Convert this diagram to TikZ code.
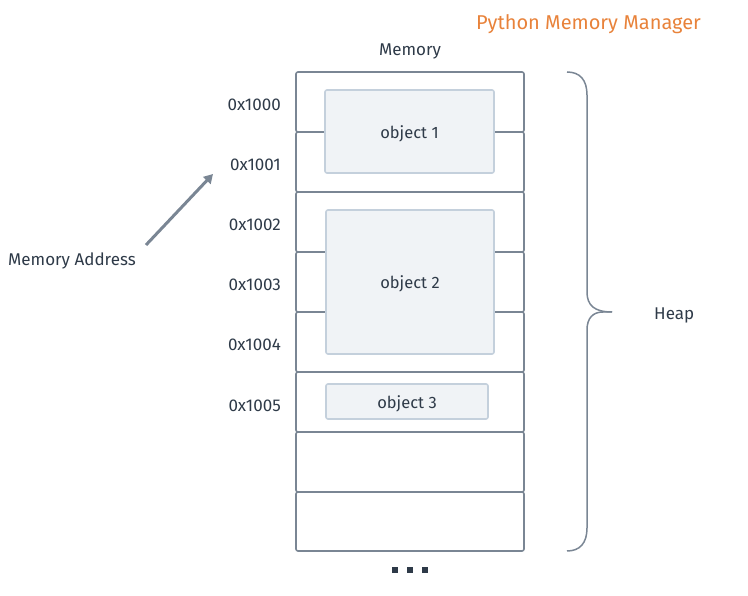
\documentclass[tikz,border=0pt]{standalone}
\usepackage{fontspec}
\setmainfont{Fira Sans}
\usetikzlibrary{arrows.meta}
\definecolor{cellgray}{HTML}{7A8694}
\definecolor{objfill}{HTML}{F0F3F6}
\definecolor{objdraw}{HTML}{C4D0DC}
\definecolor{txt}{HTML}{2E3A48}
\definecolor{orng}{HTML}{E8823A}
\begin{document}
\begin{tikzpicture}[x=1pt,y=-1pt,
  cell/.style={draw=cellgray,line width=1.6pt,rounded corners=2pt},
  objbox/.style={draw=objdraw,fill=objfill,line width=1.6pt,rounded corners=2pt,text=txt,font=\fontsize{16.5}{18}\selectfont,text height=14pt,text depth=0pt},
  lbl/.style={text=txt,font=\fontsize{17}{19}\selectfont,inner sep=0pt,yshift=-2pt},
  dotsq/.style={fill=txt,minimum size=6pt,inner sep=0pt}]
\useasboundingbox (0,0) rectangle (748,596);
% memory cells
\foreach \i/\t/\b in {1/72/132,2/132/192,3/192/252,4/252/312,5/312/372,6/372/432,7/432/492,8/492/551}
  \draw[cell] (296,\t) rectangle (524,\b);
% objects
\node[objbox,minimum width=169pt,minimum height=83pt] (o1) at (409.5,131.5) {object 1};
\node[objbox,minimum width=168pt,minimum height=144pt] (o2) at (410,282) {object 2};
\node[objbox,minimum width=162pt,minimum height=35pt] (o3) at (407,401.5) {object 3};
% addresses
\node[lbl,anchor=east] (a0) at (281,103) {0x1000};
\node[lbl,anchor=east] (a1) at (281,163) {0x1001};
\node[lbl,anchor=east] (a2) at (281,223) {0x1002};
\node[lbl,anchor=east] (a3) at (281,283) {0x1003};
\node[lbl,anchor=east] (a4) at (281,343) {0x1004};
\node[lbl,anchor=east] (a5) at (281,404) {0x1005};
% titles
\node[lbl] (mem) at (410,49) {Memory};
\node[text=orng,font=\fontsize{20}{22}\selectfont,inner sep=0pt,anchor=west,yshift=-1pt] (pmm) at (476,23) {Python Memory Manager};
\node[lbl,anchor=west] (heap) at (654,313) {Heap};
\node[lbl,anchor=west] (ma) at (8,259) {Memory Address};
% arrow
\coordinate (as) at (146,245);
\coordinate (ae) at (213,174);
\draw[cellgray,line width=3pt,-{Triangle[length=9pt,width=10pt]}] (as) -- (ae);
% brace
\draw[cellgray,line width=1.5pt] (567,72) .. controls (580,72) and (587,80) .. (587,95) -- (587,292)
  .. controls (587,305) and (594,312) .. (612,312);
\draw[cellgray,line width=1.5pt] (612,312) -- (603,312) .. controls (593,312) and (587,318) .. (587,330)
  -- (587,528) .. controls (587,543) and (580,551) .. (567,551);
% dots
\node[dotsq] (d1) at (395,570) {};
\node[dotsq] (d2) at (410,570) {};
\node[dotsq] (d3) at (425,570) {};
\end{tikzpicture}
\end{document}
